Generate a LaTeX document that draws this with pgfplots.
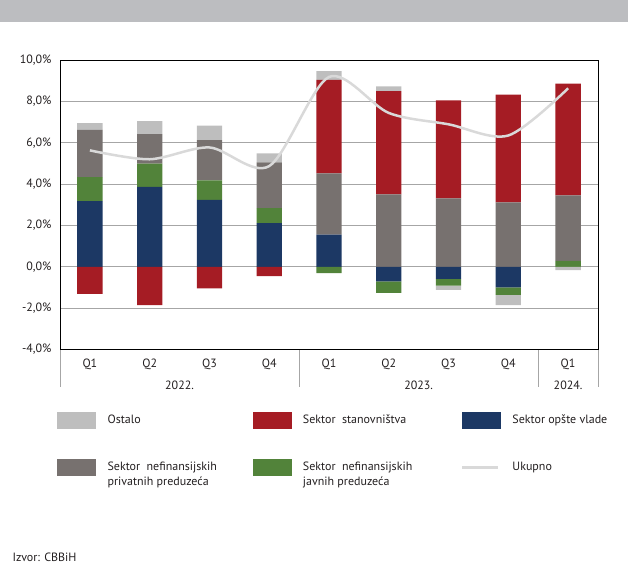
\documentclass[border=0pt]{standalone}
\usepackage{fontspec}
\setmainfont{PT Sans}
\usepackage{pgfplots}
\pgfplotsset{compat=1.18}
\usepackage{pgfplotstable}

\definecolor{cOst}{HTML}{BEBEBE}
\definecolor{cRed}{HTML}{A51C24}
\definecolor{cNavy}{HTML}{1C3864}
\definecolor{cGray}{HTML}{77716F}
\definecolor{cGreen}{HTML}{52833A}
\definecolor{cLine}{HTML}{D9D9D9}
\definecolor{cGrid}{HTML}{A6A6A6}
\definecolor{cBand}{HTML}{BCBDC0}
\definecolor{cText}{HTML}{231F20}

% positive parts of the stacks
\pgfplotstableread{
x navy green gray red ost
0 3.18 1.16 2.28 0    0.33
1 3.86 1.13 1.42 0    0.63
2 3.24 0.94 1.95 0    0.70
3 2.11 0.73 2.21 0    0.44
4 1.56 0    2.96 4.52 0.42
5 0    0    3.50 4.99 0.23
6 0    0    3.31 4.74 0
7 0    0    3.11 5.22 0
8 0    0.29 3.16 5.41 0
}\pos

% negative parts of the stacks
\pgfplotstableread{
x navy green ost red
0 0     0     0     -1.31
1 0     0     0     -1.86
2 0     0     0     -1.05
3 0     0     0     -0.45
4 0     -0.31 0     0
5 -0.71 -0.55 0     0
6 -0.58 -0.33 -0.21 0
7 -0.99 -0.37 -0.50 0
8 0     0     -0.16 0
}\neg

\pgfplotstableread{
x tot
0 5.63
1 5.20
2 5.77
3 4.87
4 9.18
5 7.44
6 6.89
7 6.35
8 8.63
}\tot

\pgfplotsset{
  base/.style={
    at={(60pt,-349.5pt)}, anchor=south west,
    scale only axis, width=538pt, height=289.5pt,
    xmin=-0.5, xmax=8.5, ymin=-4, ymax=10,
  },
  bars/.style={ybar stacked, bar width=25.3pt},
}

\begin{document}
\begin{tikzpicture}[font=\fontsize{12pt}{15pt}\selectfont, text=cText]
\useasboundingbox (0pt,0pt) rectangle (628pt,-564pt);
\fill[cBand] (0pt,0pt) rectangle (628pt,-21.7pt);

\begin{axis}[base, bars, clip=false,
  axis line style={black, line width=0.8pt},
  ymajorgrids, grid style={draw=cGrid, line width=0.9pt},
  ytick={-4,-2,...,10},
  yticklabels={{-4,0\%},{-2,0\%},{0,0\%},{2,0\%},{4,0\%},{6,0\%},{8,0\%},{10,0\%}},
  xtick={0,...,8},
  xticklabels={Q1,Q2,Q3,Q4,Q1,Q2,Q3,Q4,Q1},
  major tick length=0pt,
  tick pos=left,
  yticklabel style={xshift=-5pt},
  xticklabel style={yshift=-6pt},
  extra x ticks={-0.5,3.5,7.5,8.5},
  extra x tick labels={},
  extra x tick style={major tick length=37pt, xtick align=outside,
    major tick style={draw=cGrid, line width=0.8pt}},
]
\addplot[fill=cNavy, draw=none]  table[y=navy]  {\pos};
\addplot[fill=cGreen, draw=none] table[y=green] {\pos};
\addplot[fill=cGray, draw=none]  table[y=gray]  {\pos};
\addplot[fill=cRed, draw=none]   table[y=red]   {\pos};
\addplot[fill=cOst, draw=none]   table[y=ost]   {\pos};

\node at (axis cs:1.5,-4) [yshift=-35.5pt] {2022.};
\node at (axis cs:5.5,-4) [yshift=-35.5pt] {2023.};
\node at (axis cs:8,-4) [yshift=-35.5pt] {2024.};
\end{axis}

\begin{axis}[base, bars, hide axis]
\addplot[fill=cNavy, draw=none]  table[y=navy]  {\neg};
\addplot[fill=cGreen, draw=none] table[y=green] {\neg};
\addplot[fill=cOst, draw=none]   table[y=ost]   {\neg};
\addplot[fill=cRed, draw=none]   table[y=red]   {\neg};
\end{axis}

\begin{axis}[base, hide axis,
  legend columns=3,
  legend cell align=left,
  legend style={at={(axis description cs:-0.0056,-0.214)}, anchor=north west,
    draw=none, fill=none, inner sep=0pt, row sep=31pt,
    nodes={inner sep=0pt},
    /tikz/every odd column/.append style={column sep=12pt}},
]
\addlegendimage{legend image code/.code={\fill[cOst] (0pt,-8pt) rectangle (38pt,8pt);}}
\addlegendentry{\parbox[t]{145pt}{Ostalo}}
\addlegendimage{legend image code/.code={\fill[cRed] (0pt,-8pt) rectangle (38pt,8pt);}}
\addlegendentry{\parbox[t]{158pt}{Sektor\ \ stanovništva}}
\addlegendimage{legend image code/.code={\fill[cNavy] (0pt,-8pt) rectangle (38pt,8pt);}}
\addlegendentry{\parbox[t]{110pt}{Sektor opšte vlade}}
\addlegendimage{legend image code/.code={\fill[cGray] (0pt,-8pt) rectangle (38pt,8pt);}}
\addlegendentry{\parbox[t]{145pt}{Sektor\ \ nefinansijskih\\privatnih preduzeća}}
\addlegendimage{legend image code/.code={\fill[cGreen] (0pt,-8pt) rectangle (38pt,8pt);}}
\addlegendentry{\parbox[t]{158pt}{Sektor\ \ nefinansijskih\\javnih preduzeća}}
\addplot[cLine, line width=2.5pt, smooth, legend image code/.code={\draw[cLine, line width=2.5pt] (0pt,0pt) -- (36pt,0pt);}] table[y=tot] {\tot};
\addlegendentry{\parbox[t]{110pt}{Ukupno}}
\end{axis}

\node[anchor=west] at (9pt,-557pt) {Izvor: CBBiH};
\end{tikzpicture}
\end{document}
